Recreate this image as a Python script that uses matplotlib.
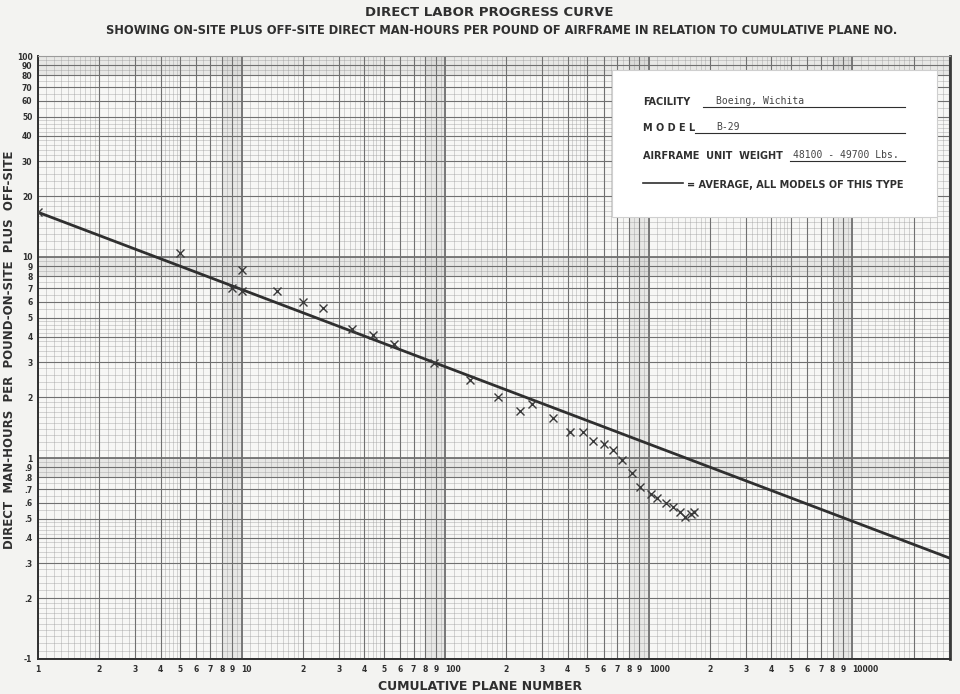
import matplotlib.pyplot as plt
import numpy as np

# cumulative plane number / direct man-hours per lb
plane_no = [1, 5, 9, 10, 10, 15, 20, 25, 35, 44, 56, 88,
            132, 181, 232, 267, 338, 411, 475, 535, 600, 671, 741,
            827, 908, 1025, 1097, 1219, 1315, 1429, 1511, 1611, 1674]
man_hours = [16.7, 10.5, 7.0, 6.8, 8.6, 6.8, 5.95, 5.6, 4.36, 4.1, 3.68, 2.98,
             2.43, 2.02, 1.71, 1.85, 1.59, 1.34, 1.35, 1.21, 1.17, 1.10, 0.98,
             0.845, 0.718, 0.66, 0.633, 0.60, 0.569, 0.537, 0.51, 0.526, 0.54]

# average line for all models of this type (end points)
avg_x = [1, 30000]
avg_y = [16.7, 0.318]

x_ticks = [m * 10**k for k in range(5) for m in range(1, 10) if m * 10**k <= 10000]
x_labels = [str(m * 10**k) if m == 1 else str(m)
            for k in range(5) for m in range(1, 10) if m * 10**k <= 10000]
y_ticks = [m * 10.0**k for k in (-1, 0, 1) for m in range(1, 10)] + [100]
y_labels = ["-1", ".2", ".3", ".4", ".5", ".6", ".7", ".8", ".9",
            "1", "2", "3", "4", "5", "6", "7", "8", "9",
            "10", "20", "30", "40", "50", "60", "70", "80", "90", "100"]

ink = "#2f2f2f"
grid_c = "#9a9a9a"

fig = plt.figure(figsize=(9.6, 6.94), dpi=100, facecolor="#f3f3f1")
ax = fig.add_axes([38 / 960, 1 - 659 / 694, (950 - 38) / 960, (659 - 56) / 694])
ax.set_facecolor("#f7f7f5")
ax.set_xscale("log")
ax.set_yscale("log")
ax.set_xlim(1, 30200)
ax.set_ylim(0.1, 100)

# graph paper
def sublines(lo, hi):
    out = []
    for k in range(int(np.floor(np.log10(lo))), int(np.ceil(np.log10(hi))) + 1):
        d = 10.0**k
        out += list(np.arange(1, 2, 0.1) * d) + list(np.arange(2, 5, 0.2) * d) + list(np.arange(5, 10, 0.5) * d)
    return [v for v in out if lo < v < hi]

for v in sublines(1, 30200):
    ax.axvline(v, color=grid_c, lw=0.4, alpha=0.7, zorder=1)
for v in sublines(0.1, 100):
    ax.axhline(v, color=grid_c, lw=0.4, alpha=0.7, zorder=1)
for k in range(5):
    for m in range(1, 10):
        ax.axvline(m * 10**k, color="#707070", lw=0.8 if m > 1 else 1.3, zorder=1)
for k in (-1, 0, 1):
    for m in range(1, 10):
        ax.axhline(m * 10.0**k, color="#707070", lw=0.8 if m > 1 else 1.3, zorder=1)
for k in range(5):
    ax.axvspan(8 * 10**k, 10 * 10**k, color="#b8b8b8", alpha=0.25, lw=0, zorder=0.5)
for k in (-1, 0, 1):
    ax.axhspan(8 * 10.0**k, 10 * 10.0**k, color="#b8b8b8", alpha=0.25, lw=0, zorder=0.5)

ax.plot(avg_x, avg_y, color=ink, lw=2.0, zorder=3)
ax.plot(plane_no, man_hours, ls="none", marker="x", ms=6, mew=1.0, color="#3a3a3a", zorder=4)

ax.set_xticks(x_ticks)
ax.set_xticklabels(x_labels)
ax.set_yticks(y_ticks)
ax.set_yticklabels(y_labels)
ax.minorticks_off()
ax.tick_params(length=0, labelsize=5.5, colors=ink, pad=4)
for lab in ax.get_xticklabels() + ax.get_yticklabels():
    lab.set_fontweight("bold")
for lab in ax.get_xticklabels():
    if lab.get_text() in ("10", "100", "1000", "10000"):
        lab.set_horizontalalignment("left")

for s in ("left", "bottom"):
    ax.spines[s].set_color(ink)
    ax.spines[s].set_linewidth(1.4)
ax.spines["right"].set_color("#3a3a3a")
ax.spines["right"].set_linewidth(2.0)
ax.spines["top"].set_color(grid_c)
ax.spines["top"].set_linewidth(0.8)

# titles and axis labels
fig.text(0.51, 1 - 13 / 694, "DIRECT LABOR PROGRESS CURVE", ha="center", va="center",
         fontsize=9.5, fontweight="bold", color=ink)
fig.text(0.523, 1 - 30 / 694,
         "SHOWING ON-SITE PLUS OFF-SITE DIRECT MAN-HOURS PER POUND OF AIRFRAME IN RELATION TO CUMULATIVE PLANE NO.",
         ha="center", va="center", fontsize=8.3, fontweight="bold", color=ink)
fig.text(0.5, 1 - 687 / 694, "CUMULATIVE PLANE NUMBER", ha="center", va="center",
         fontsize=9, fontweight="bold", color=ink)
fig.text(10 / 960, 1 - 350 / 694, "DIRECT  MAN-HOURS  PER  POUND-ON-SITE  PLUS  OFF-SITE",
         ha="center", va="center", rotation=90, fontsize=8.5, fontweight="bold", color=ink)

# information box
box = plt.Rectangle((612 / 960, 1 - 217 / 694), (937 - 612) / 960, (217 - 70) / 694,
                    transform=fig.transFigure, facecolor="white", edgecolor="#cfcfcf", lw=0.8, zorder=5)
fig.patches.append(box)

def fy(py):
    return 1 - py / 694

def fx(px):
    return px / 960

rows = [("FACILITY", 102, 703, "Boeing, Wichita", 716),
        ("M O D E L", 128, 695, "B-29", 716),
        ("AIRFRAME  UNIT  WEIGHT", 156, 790, "48100 - 49700 Lbs.", 793)]
for label, py, ux, val, vx in rows:
    fig.text(fx(643), fy(py), label, ha="left", va="center", fontsize=7,
             fontweight="bold", color=ink, zorder=6)
    fig.add_artist(plt.Line2D([fx(ux), fx(905)], [fy(py + 5), fy(py + 5)],
                              transform=fig.transFigure, color=ink, lw=0.8, zorder=6))
    fig.text(fx(vx), fy(py - 1), val, ha="left", va="center", fontsize=7,
             family="DejaVu Sans Mono", color="#444444", zorder=6)

fig.add_artist(plt.Line2D([fx(643), fx(683)], [fy(183), fy(183)],
                          transform=fig.transFigure, color=ink, lw=1.2, zorder=6))
fig.text(fx(687), fy(185), "= AVERAGE, ALL MODELS OF THIS TYPE", ha="left", va="center",
         fontsize=7, fontweight="bold", color=ink, zorder=6)

fig.savefig("out.png", dpi=100, facecolor=fig.get_facecolor())
